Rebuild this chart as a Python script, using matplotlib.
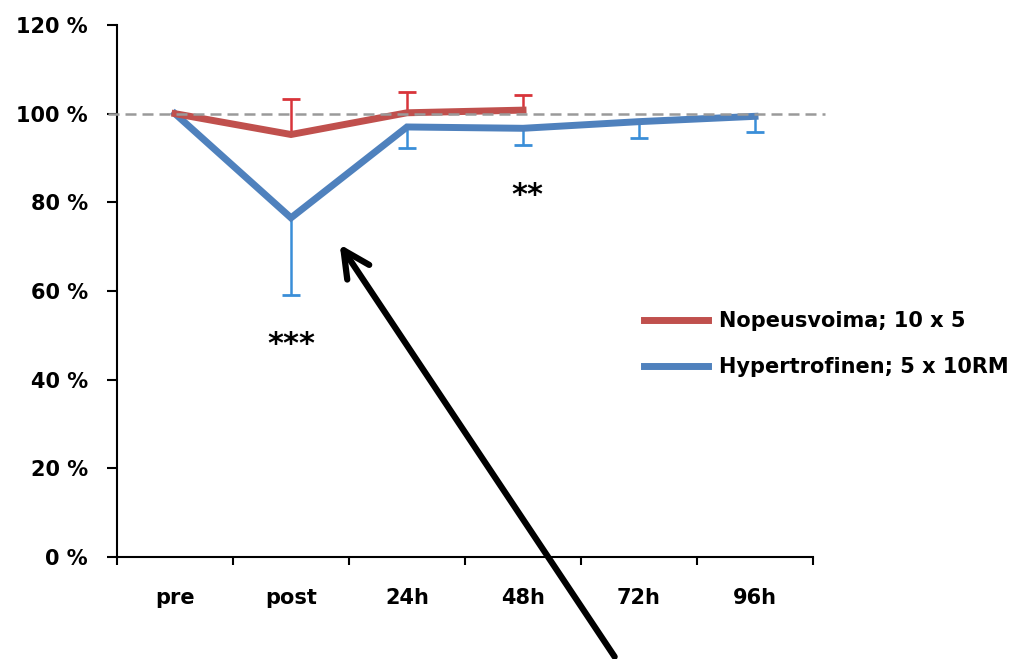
import matplotlib
matplotlib.use("Agg")
import matplotlib.pyplot as plt
import numpy as np

CATEGORIES = ["pre", "post", "24h", "48h", "72h", "96h"]
RED_VALUES = [100, 95.3, 100.2, 100.8]          # pre..48h
RED_UPPER = [103.3, 104.8, 104.3]               # error bar tops, post..48h
BLUE_VALUES = [100, 76.5, 97.0, 96.7, 98.2, 99.4]
BLUE_LOWER = [59.2, 92.3, 93.0, 94.5, 95.8]     # error bar bottoms, post..96h
YTICKS = [0, 20, 40, 60, 80, 100, 120]
RED_LABEL = "Nopeusvoima; 10 x 5"
BLUE_LABEL = "Hypertrofinen; 5 x 10RM"

RED = "#C0504D"
BLUE = "#4F81BD"
RED_ERR = "#D8343A"
BLUE_ERR = "#3A8ED8"

plt.rcParams["font.family"] = "DejaVu Sans"
plt.rcParams["font.weight"] = "bold"

fig = plt.figure(figsize=(10.18, 6.59), dpi=100)
ax = fig.add_axes([117 / 1018, 1 - 557 / 659, (813 - 117) / 1018, (557 - 25) / 659])

x_red = np.arange(len(RED_VALUES))
x_blue = np.arange(len(BLUE_VALUES))

# one-sided error bars: stem + single cap at the far end
ax.vlines(x_red[1:], RED_VALUES[1:], RED_UPPER, color=RED_ERR, lw=1.8, zorder=3)
ax.plot(x_red[1:], RED_UPPER, ls="none", marker="_", ms=13, mew=2, color=RED_ERR, zorder=3)
ax.vlines(x_blue[1:], BLUE_LOWER, BLUE_VALUES[1:], color=BLUE_ERR, lw=1.8, zorder=2)
ax.plot(x_blue[1:], BLUE_LOWER, ls="none", marker="_", ms=13, mew=2, color=BLUE_ERR, zorder=2)

ax.plot(x_blue, BLUE_VALUES, color=BLUE, lw=5, solid_joinstyle="miter", label=BLUE_LABEL, zorder=4)
ax.plot(x_red, RED_VALUES, color=RED, lw=5, solid_joinstyle="miter", label=RED_LABEL, zorder=5)

# reference line at 100 %
ax.plot([-0.58, 5.6], [100, 100], color="#9A9A9A", lw=1.8, dashes=(4.4, 2.4),
        clip_on=False, zorder=6)

ax.set_xlim(-0.5, len(CATEGORIES) - 0.5)
ax.set_ylim(0, 120)

ax.set_yticks(YTICKS)
ax.set_yticklabels([f"{v} %" for v in YTICKS])
ax.set_xticks(np.arange(len(CATEGORIES) + 1) - 0.5)
ax.set_xticklabels([])
ax.set_xticks(np.arange(len(CATEGORIES)), minor=True)
ax.set_xticklabels(CATEGORIES, minor=True)

ax.tick_params(axis="y", direction="out", length=7, width=1.5, pad=14, labelsize=15)
ax.tick_params(axis="x", which="major", direction="out", length=6, width=1.5)
ax.tick_params(axis="x", which="minor", length=0, pad=22, labelsize=15)

for side in ["top", "right"]:
    ax.spines[side].set_visible(False)
for side in ["left", "bottom"]:
    ax.spines[side].set_linewidth(1.5)

# significance marks
ax.text(1, 48, "***", ha="center", va="center", fontsize=22, fontweight="bold")
ax.text(3.04, 81.5, "**", ha="center", va="center", fontsize=22, fontweight="bold")

handles, labels = ax.get_legend_handles_labels()
ax.legend(handles[::-1], labels[::-1], loc="center left", frameon=False,
          bbox_to_anchor=(625 / 1018, 1 - 344 / 659), bbox_transform=fig.transFigure,
          fontsize=15, handlelength=3.1, handletextpad=0.5, labelspacing=1.25)

# arrow
ax.annotate("", xy=(1.42, 70.5), xytext=(3.79, -22.5),
            arrowprops=dict(arrowstyle="->, head_length=1.9, head_width=0.95",
                            lw=4.5, color="black", shrinkA=0, shrinkB=0),
            annotation_clip=False, zorder=7)

fig.savefig("out.png", dpi=100)
